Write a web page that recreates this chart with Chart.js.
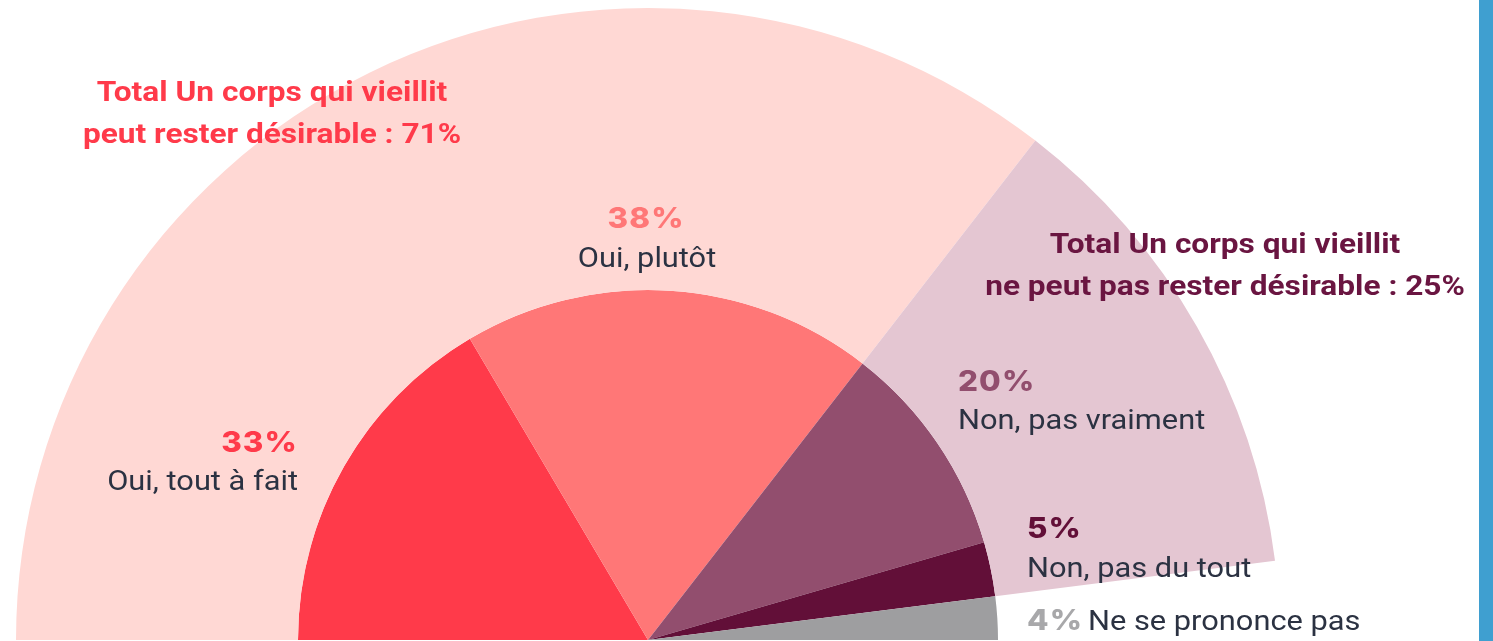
<!DOCTYPE html>
<html>
<head>
<meta charset="utf-8">
<script src="https://cdn.jsdelivr.net/npm/chart.js@4.4.1/dist/chart.umd.min.js"></script>
<style>
    html, body { margin: 0; padding: 0; background: #ffffff; }
    #wrap { position: relative; width: 1493px; height: 641px; overflow: hidden; }
    #graf { position: absolute; left: 0; top: 0; }
    .barra { position: absolute; left: 1479px; top: 0; width: 14px; height: 641px; background: #3f9fd0; }
    .txt { position: absolute; white-space: nowrap; line-height: 1; }
    .pct { font-family: Inter, sans-serif; font-weight: 800; font-size: 28px; letter-spacing: 1px; }
    .lbl { font-family: Roboto, sans-serif; font-weight: 400; font-size: 28px; color: #2b3242; }
    .tot { font-family: Roboto, sans-serif; font-weight: 700; font-size: 28px; line-height: 42px; text-align: center; }
</style>
</head>
<body>
<div id="wrap">
    <canvas id="graf" width="1493" height="641"></canvas>
    <div class="barra"></div>
    <div id="textos"></div>
</div>
<script>
// datos
const categorias = ['Oui, tout à fait', 'Oui, plutôt', 'Non, pas vraiment', 'Non, pas du tout', 'Ne se prononce pas'];
const valores = [33, 38, 20, 5, 4];
const totales = [71, 25, 4];
const etiquetasTotales = [
    ['Total Un corps qui vieillit', 'peut rester désirable : '],
    ['Total Un corps qui vieillit', 'ne peut pas rester désirable : ']
];

const coloresInternos = ['#ff3a4a', '#ff7777', '#924e6e', '#620f38', '#9e9ea0'];
const coloresExternos = ['#ffd8d4', '#e4c6d2', 'rgba(0,0,0,0)'];
const coloresTexto = ['#ff3a4a', '#ff7777', '#924e6e', '#620f38', '#a8a8aa'];

const data = {
    labels: categorias,
    datasets: [
        {
            label: 'Total',
            data: totales,
            backgroundColor: coloresExternos,
            borderWidth: 0,
            weight: 282
        },
        {
            label: 'Detalle',
            data: valores,
            backgroundColor: coloresInternos,
            borderWidth: 0,
            weight: 350
        }
    ]
};

const config = {
    type: 'pie',
    data: data,
    options: {
        responsive: false,
        animation: false,
        rotation: -90,
        circumference: 180,
        layout: {
            padding: { left: 16, right: 213, top: 8, bottom: 1 }
        },
        events: [],
        plugins: {
            legend: { display: false },
            tooltip: { enabled: false }
        }
    }
};

const ctx = document.getElementById('graf').getContext('2d');
window.graficaCuerpo = new Chart(ctx, config);

// textos
const contenedor = document.getElementById('textos');
function texto(html, clase, x, y, alin, escala, color) {
    const d = document.createElement('div');
    d.className = 'txt ' + clase;
    d.innerHTML = html;
    d.style.left = x + 'px';
    d.style.top = y + 'px';
    if (color) d.style.color = color;
    let tx = '0';
    let origen = 'left';
    if (alin === 'center') { tx = '-50%'; origen = 'center'; }
    if (alin === 'right') { tx = '-100%'; origen = 'right'; }
    d.style.transformOrigin = origen + ' top';
    d.style.transform = 'translateX(' + tx + ') scaleX(' + escala + ')';
    contenedor.appendChild(d);
}

texto(etiquetasTotales[0][0] + '<br>' + etiquetasTotales[0][1] + totales[0] + '%', 'tot', 272, 71, 'center', 1.13, '#ff3a4a');
texto(etiquetasTotales[1][0] + '<br>' + etiquetasTotales[1][1] + totales[1] + '%', 'tot', 1225, 223, 'center', 1.13, '#6a1541');

texto(valores[0] + '%', 'pct', 298, 428, 'right', 1.12, coloresTexto[0]);
texto(categorias[0], 'lbl', 298, 467, 'right', 1.1);

texto(valores[1] + '%', 'pct', 646, 204, 'center', 1.12, coloresTexto[1]);
texto(categorias[1], 'lbl', 647, 244, 'center', 1.1);

texto(valores[2] + '%', 'pct', 958, 367, 'left', 1.12, coloresTexto[2]);
texto(categorias[2], 'lbl', 958, 406, 'left', 1.1);

texto(valores[3] + '%', 'pct', 1027, 514, 'left', 1.12, coloresTexto[3]);
texto(categorias[3], 'lbl', 1027, 554, 'left', 1.1);

texto(valores[4] + '%', 'pct', 1027, 606, 'left', 1.12, coloresTexto[4]);
texto(categorias[4], 'lbl', 1088, 607, 'left', 1.1);
</script>
</body>
</html>
